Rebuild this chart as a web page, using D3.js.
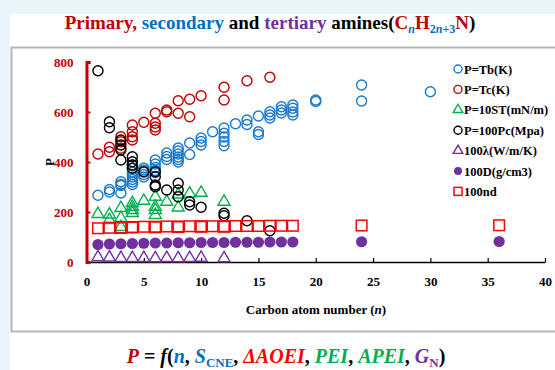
<!DOCTYPE html>
<html>
<head>
<meta charset="utf-8">
<script src="https://cdn.jsdelivr.net/npm/d3@7"></script>
<style>
  body { margin: 0; background: #eaf6fc; }
  svg { display: block; }
</style>
</head>
<body>
<div id="chart"></div>
<script>
// Series values, [carbon number n, P]
const tb = [[1,267],[2,290],[2,280],[3,321],[3,310],[3,306],[3,276],
  [4,388],[4,375],[4,360],[4,350],[4,340],[4,330],[4,320],[4,310],
  [5,376],[5,368],[5,360],[5,350],[5,340],[6,408],[6,392],[6,378],[6,366],[6,358],
  [7,436],[7,422],[7,410],[8,456],[8,444],[8,432],[8,420],[8,410],[8,400],
  [9,476],[9,430],[10,496],[10,482],[10,468],[11,521],
  [12,536],[12,515],[12,500],[12,482],[12,465],[13,553],[14,568],[14,550],
  [15,584],[15,521],[15,510],[16,601],[16,588],[16,576],[17,621],[17,608],[17,596],
  [18,628],[18,615],[18,600],[18,588],[20,648],[20,642],[24,708],[24,644],[30,681]];
const tc = [[1,432],[2,459],[2,441],[3,501],[3,481],[3,455],[4,548],[4,521],[4,501],[4,488],
  [5,559],[6,595],[6,555],[6,540],[6,528],[7,608],[7,601],[8,645],[8,595],
  [9,651],[9,581],[10,665],[12,699],[12,648],[14,725],[16,739]];
const st = [[1,192],[2,190],[2,168],[3,216],[3,176],[3,140],[4,236],[4,221],[4,208],[4,196],
  [5,245],[6,261],[6,221],[6,208],[6,188],[7,241],[8,270],[8,218],[9,274],[10,277],[12,241]];
const pc = [[1,765],[2,561],[2,537],[3,488],[3,468],[3,448],[3,408],[4,421],[4,401],[4,388],[4,375],
  [5,361],[6,361],[6,341],[6,308],[6,301],[7,288],[8,315],[8,288],[8,261],
  [9,241],[9,228],[10,219],[12,195],[12,185],[14,165],[16,125]];
const lambda = [[1,19],[2,18],[3,16],[4,16],[5,16],[6,15],[7,16],[8,15],[9,16],[10,17],[12,15]];
const dens = [[1,70],[2,72],[3,73],[4,74],[5,75],[6,76],[7,76],[8,77],[9,77],[10,78],[11,78],
  [12,78],[13,79],[14,79],[15,79],[16,80],[17,80],[18,80],[24,81],[36,82]];
const nd = [[1,135],[2,137],[3,138],[3,136],[4,140],[4,138],[5,141],[6,141],[6,139],[7,142],
  [8,142],[8,140],[9,143],[10,143],[10,141],[11,143],[12,143],[12,141],[13,144],[14,144],
  [15,144],[16,145],[17,145],[18,145],[24,146],[36,147]];

const xTicks = [0, 5, 10, 15, 20, 25, 30, 35, 40];
const yTicks = [0, 200, 400, 600, 800];

const legendLabels = ["P=Tb(K)", "P=Tc(K)", "P=10ST(mN/m)", "P=100Pc(Mpa)", "100λ(W/m/K)", "100D(g/cm3)", "100nd"];

const series = [
  {data: tb, shape: "circle", color: "#1a7acb", fill: false},
  {data: tc, shape: "circle", color: "#c00000", fill: false},
  {data: st, shape: "triangle", color: "#00b050", fill: false},
  {data: pc, shape: "circle", color: "#000000", fill: false},
  {data: lambda, shape: "triangle", color: "#7030a0", fill: false},
  {data: dens, shape: "circle", color: "#7030a0", fill: true},
  {data: nd, shape: "square", color: "#ff0000", fill: false}
];

const FONT = "Liberation Serif";
const W = 555, H = 370;
const svg = d3.select("#chart").append("svg")
  .attr("width", W).attr("height", H)
  .attr("font-family", FONT)
  .attr("font-weight", "bold");

// page panels
svg.append("rect").attr("x", 0).attr("y", 0).attr("width", W).attr("height", H).attr("fill", "#eaf6fc");
svg.append("rect").attr("x", 10).attr("y", 14).attr("width", W - 10).attr("height", H - 14).attr("fill", "#ffffff");
svg.append("rect").attr("x", 11.5).attr("y", 47.5).attr("width", W + 10).attr("height", 284)
  .attr("fill", "none").attr("stroke", "#b5b5b5").attr("stroke-width", 2);

// title
const title = svg.append("text").attr("x", 270).attr("y", 29).attr("text-anchor", "middle")
  .attr("font-family", FONT).attr("font-size", 19);
title.append("tspan").attr("fill", "#c00000").text("Primary, ");
title.append("tspan").attr("fill", "#0070c0").text("secondary ");
title.append("tspan").attr("fill", "#000").text("and ");
title.append("tspan").attr("fill", "#7030a0").text("tertiary ");
title.append("tspan").attr("fill", "#000").text("amines(");
title.append("tspan").attr("fill", "#c00000").text("C");
title.append("tspan").attr("fill", "#0070c0").attr("font-style", "italic").attr("dy", 4).attr("font-size", 12).text("n");
title.append("tspan").attr("fill", "#c00000").attr("dy", -4).text("H");
title.append("tspan").attr("fill", "#0070c0").attr("dy", 4).attr("font-size", 12).text("2");
title.append("tspan").attr("fill", "#0070c0").attr("font-style", "italic").attr("font-size", 12).text("n");
title.append("tspan").attr("fill", "#0070c0").attr("font-size", 12).text("+3");
title.append("tspan").attr("fill", "#c00000").attr("dy", -4).text("N");
title.append("tspan").attr("fill", "#000").text(")");

// scales
const x = d3.scaleLinear().domain([0, 40]).range([86.5, 545]);
const y = d3.scaleLinear().domain([0, 800]).range([262, 62]);

// x axis
const xAxis = svg.append("g")
  .attr("transform", `translate(0,${y(0)})`)
  .call(d3.axisBottom(x).tickValues(xTicks).tickSizeInner(-4).tickSizeOuter(0).tickPadding(15));
xAxis.attr("font-family", FONT).attr("font-size", 13).attr("font-weight", "bold");
xAxis.select(".domain").attr("stroke", "#000").attr("stroke-width", 1.5);
xAxis.selectAll(".tick line").attr("stroke", "#000").attr("stroke-width", 1.2);
xAxis.selectAll(".tick text").attr("fill", "#000");

// y axis
const yAxis = svg.append("g")
  .attr("transform", `translate(${x(0)},0)`)
  .call(d3.axisLeft(y).tickValues(yTicks).tickSizeInner(-4).tickSizeOuter(-4).tickPadding(13));
yAxis.attr("font-family", FONT).attr("font-size", 13).attr("font-weight", "bold");
yAxis.select(".domain").attr("stroke", "#c00000").attr("stroke-width", 3);
yAxis.selectAll(".tick line").attr("stroke", "#c00000").attr("stroke-width", 2);
yAxis.selectAll(".tick text").attr("fill", "#c00000");

// axis labels
const xLab = svg.append("text")
  .attr("x", 316).attr("y", 314)
  .attr("text-anchor", "middle")
  .attr("font-family", FONT).attr("font-size", 13);
xLab.append("tspan").text("Carbon atom number (");
xLab.append("tspan").attr("font-style", "italic").text("n");
xLab.append("tspan").text(")");

svg.append("text")
  .attr("transform", "rotate(-90)")
  .attr("x", -162).attr("y", 54)
  .attr("text-anchor", "middle")
  .attr("font-family", FONT).attr("font-size", 13)
  .text("P");

// markers
function drawMarker(g, shape, color, fill, size) {
  if (shape === "circle") {
    g.append("circle").attr("r", size)
      .attr("fill", fill ? color : "none").attr("stroke", color).attr("stroke-width", fill ? 0 : 1.4);
  } else if (shape === "triangle") {
    const s = size * 2.4;
    const h = s * Math.sqrt(3) / 2;
    g.append("path").attr("d", `M0,${-h * 2 / 3}L${s / 2},${h / 3}L${-s / 2},${h / 3}Z`)
      .attr("fill", "none").attr("stroke", color).attr("stroke-width", 1.4);
  } else {
    const s = size * 2;
    g.append("rect").attr("x", -s / 2).attr("y", -s / 2).attr("width", s).attr("height", s)
      .attr("fill", "none").attr("stroke", color).attr("stroke-width", 1.5);
  }
}

series.forEach(function(ser) {
  const size = ser.fill ? 5.6 : (ser.shape === "square" ? 5.3 : 5);
  ser.data.forEach(function(d) {
    const g = svg.append("g").attr("transform", `translate(${x(d[0])},${y(d[1])})`);
    drawMarker(g, ser.shape, ser.color, ser.fill, size);
  });
});

// legend
const legend = svg.append("g").attr("transform", "translate(458,69)");
series.forEach(function(ser, i) {
  const g = legend.append("g").attr("transform", `translate(0,${i * 20.4})`);
  drawMarker(g, ser.shape, ser.color, ser.fill, 4);
  legend.append("text")
    .attr("x", 6).attr("y", i * 20.4 + 4.5)
    .attr("font-family", FONT).attr("font-size", 12.5)
    .text(legendLabels[i]);
});

// formula
const f = svg.append("text").attr("x", 286).attr("y", 363).attr("text-anchor", "middle")
  .attr("font-family", FONT).attr("font-size", 20).attr("font-style", "italic");
f.append("tspan").attr("fill", "#c00000").text("P");
f.append("tspan").attr("fill", "#000").attr("font-style", "normal").text(" = ");
f.append("tspan").attr("fill", "#000").text("f");
f.append("tspan").attr("fill", "#000").attr("font-style", "normal").text("(");
f.append("tspan").attr("fill", "#0070c0").text("n");
f.append("tspan").attr("fill", "#000").attr("font-style", "normal").text(", ");
f.append("tspan").attr("fill", "#0070c0").text("S");
f.append("tspan").attr("fill", "#0070c0").attr("font-style", "normal").attr("dy", 4).attr("font-size", 13).text("CNE");
f.append("tspan").attr("fill", "#000").attr("font-style", "normal").attr("dy", -4).text(", ");
f.append("tspan").attr("fill", "#ff0000").text("ΔAOEI");
f.append("tspan").attr("fill", "#000").attr("font-style", "normal").text(", ");
f.append("tspan").attr("fill", "#00b050").text("PEI");
f.append("tspan").attr("fill", "#000").attr("font-style", "normal").text(", ");
f.append("tspan").attr("fill", "#00b050").text("APEI");
f.append("tspan").attr("fill", "#000").attr("font-style", "normal").text(", ");
f.append("tspan").attr("fill", "#7030a0").text("G");
f.append("tspan").attr("fill", "#7030a0").attr("font-style", "normal").attr("dy", 4).attr("font-size", 13).text("N");
f.append("tspan").attr("fill", "#000").attr("font-style", "normal").attr("dy", -4).text(")");
</script>
</body>
</html>
